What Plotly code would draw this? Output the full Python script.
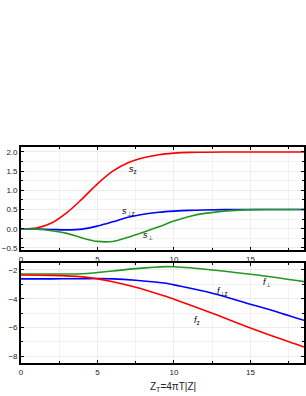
import plotly.graph_objects as go

# top panel: s-functions
x_top = [0, 1, 2, 3, 4, 5, 6, 7, 8, 9, 10, 11, 12, 14, 16, 18.5]
s_z = [0, 0.02, 0.15, 0.42, 0.78, 1.17, 1.5, 1.72, 1.85, 1.93, 1.97, 1.99, 1.995, 2.0, 2.0, 2.0]
s_perp_z = [0, -0.005, -0.02, -0.03, -0.01, 0.07, 0.18, 0.3, 0.38, 0.43, 0.46, 0.48, 0.49, 0.5, 0.5, 0.5]
s_perp = [0, -0.01, -0.05, -0.12, -0.24, -0.33, -0.33, -0.22, -0.09, 0.05, 0.2, 0.32, 0.4, 0.48, 0.5, 0.5]

# bottom panel: f-functions
x_bot = [0, 2, 4, 5, 6, 7.5, 9.5, 10, 12.5, 15, 17, 18.5]
f_perp = [-2.28, -2.28, -2.27, -2.18, -2.08, -1.91, -1.77, -1.78, -2.0, -2.3, -2.58, -2.81]
f_perp_z = [-2.62, -2.62, -2.61, -2.6, -2.62, -2.72, -2.93, -3.04, -3.62, -4.38, -5.0, -5.5]
f_z = [-2.35, -2.38, -2.48, -2.62, -2.82, -3.2, -3.85, -4.03, -5.0, -6.03, -6.8, -7.35]

# x tick values shared by both panels
x_ticks = [0, 5, 10, 15]

RED = "rgb(255,0,0)"
BLUE = "rgb(0,0,255)"
GREEN = "rgb(34,150,34)"

fig = go.Figure()
for y, c in [(s_z, RED), (s_perp_z, BLUE), (s_perp, GREEN)]:
    fig.add_trace(go.Scatter(x=x_top, y=y, mode="lines", line=dict(color=c, width=1.6, shape="spline"),
                             xaxis="x", yaxis="y", showlegend=False))
for y, c in [(f_perp, GREEN), (f_perp_z, BLUE), (f_z, RED)]:
    fig.add_trace(go.Scatter(x=x_bot, y=y, mode="lines", line=dict(color=c, width=1.6, shape="spline"),
                             xaxis="x2", yaxis="y2", showlegend=False))

tick_font = dict(family="Liberation Sans, Arial", size=8, color="#222")
axis_common = dict(showline=True, linecolor="black", linewidth=1.8, mirror="allticks",
                   ticks="inside", ticklen=3, tickcolor="black", tickwidth=1,
                   showgrid=True, gridcolor="#ececec", gridwidth=0.8, zeroline=False,
                   tickfont=tick_font)

minor_common = dict(ticks="inside", ticklen=2, tickcolor="black", showgrid=True, gridcolor="#f2f2f2")

fig.update_layout(
    width=306, height=396,
    margin=dict(l=21, r=0, t=147, b=33),
    plot_bgcolor="rgba(0,0,0,0)", paper_bgcolor="white",
    xaxis=dict(domain=[0, 1], anchor="y", range=[0, 18.5], tickvals=x_ticks,
               showticklabels=True, ticklabelstandoff=0,
               minor=dict(dtick=2.5, **minor_common), **axis_common),
    yaxis=dict(domain=[0.522, 1.0], anchor="x", range=[-0.56, 2.13], dtick=0.5, tick0=0, tickformat=".1f",
               minor=dict(dtick=0.25, **minor_common), **axis_common),
    xaxis2=dict(domain=[0, 1], anchor="y2", range=[0, 18.5], tickvals=x_ticks,
                minor=dict(dtick=2.5, **minor_common), **axis_common),
    yaxis2=dict(domain=[0, 0.4616], anchor="x2", range=[-8.46, -1.54], dtick=2, tick0=0,
                minor=dict(dtick=1, **minor_common), **axis_common),
)

lab_font = dict(family="Liberation Sans, Arial", size=9, color="black")
labels = [
    ("x", "y", 7.3, 1.55, "<i>s</i><sub>z</sub>"),
    ("x", "y", 7.0, 0.45, "<i>s</i><sub>⊥z</sub>"),
    ("x", "y", 8.3, -0.18, "<i>s</i><sub>⊥</sub>"),
    ("x2", "y2", 16.1, -2.9, "<i>f</i><sub>⊥</sub>"),
    ("x2", "y2", 13.2, -3.5, "<i>f</i><sub>⊥z</sub>"),
    ("x2", "y2", 11.5, -5.5, "<i>f</i><sub>z</sub>"),
]
for xr, yr, xv, yv, t in labels:
    fig.add_annotation(x=xv, y=yv, xref=xr, yref=yr, text=t, showarrow=False, font=lab_font)

fig.add_annotation(x=0.537, y=-0.11, xref="paper", yref="paper", yanchor="middle",
                   text="Z<sub>T</sub>=4πT|Z|", showarrow=False,
                   font=dict(family="Liberation Sans, Arial", size=10, color="#222"))

fig.write_html("out.html", config={"displayModeBar": False},
               post_script="document.body.style.margin='0';document.body.style.overflow='hidden';")
